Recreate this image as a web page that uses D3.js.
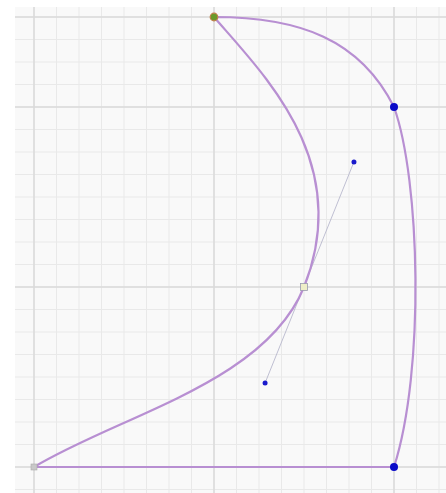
<!DOCTYPE html>
<html><head><meta charset="utf-8">
<script src="https://cdn.jsdelivr.net/npm/d3@7"></script>
<style>html,body{margin:0;padding:0;background:#fff;}svg{display:block;}</style>
</head><body>
<script>
// grid ticks (units)
const xMinor = d3.range(-1, 19);
const yMinor = d3.range(-1, 21);
const xMajor = [0, 8, 16];
const yMajor = [0, 8, 16, 20];
// anchor nodes
const nodeA = [8, 20];
const nodeB = [16, 16];
const nodeC = [16, 0];
const nodeD = [0, 0];
const nodeE = [12, 8];
// handles of node E
const handleOut = [14.22, 13.56];
const handleIn = [10.27, 3.73];
// other control points
const ctrlAB = [[11.8, 20], [14.5, 19]];
const ctrlBC = [[17.16, 12.76], [17.38, 4.31]];
const ctrlDE = [[3.82, 2.31]];
const ctrlEA = [[10.22, 17.42]];

const W = 446, H = 493;
const x = d3.scaleLinear().domain([0, 16]).range([34, 394]);
const y = d3.scaleLinear().domain([0, 16]).range([467, 107]);

const svg = d3.select("body").append("svg").attr("width", W).attr("height", H);

const gx0 = 15, gy0 = 7;
svg.append("rect").attr("x", gx0).attr("y", gy0).attr("width", W - gx0).attr("height", H - gy0).attr("fill", "#f9f9f9");

const grid = svg.append("g");
grid.selectAll("line.vx").data(xMinor.filter(v => x(v) > gx0)).join("line")
  .attr("x1", d => x(d)).attr("x2", d => x(d)).attr("y1", gy0).attr("y2", H)
  .attr("stroke", "#e9e9e9").attr("stroke-width", 1);
grid.selectAll("line.hy").data(yMinor.filter(v => y(v) > gy0)).join("line")
  .attr("y1", d => y(d)).attr("y2", d => y(d)).attr("x1", gx0).attr("x2", W)
  .attr("stroke", "#e9e9e9").attr("stroke-width", 1);
grid.selectAll("line.mx").data(xMajor).join("line")
  .attr("x1", d => x(d)).attr("x2", d => x(d)).attr("y1", gy0).attr("y2", H)
  .attr("stroke", "#dadada").attr("stroke-width", 1.5);
grid.selectAll("line.my").data(yMajor).join("line")
  .attr("y1", d => y(d)).attr("y2", d => y(d)).attr("x1", gx0).attr("x2", W)
  .attr("stroke", "#dadada").attr("stroke-width", 1.5);

const P = p => [x(p[0]), y(p[1])];

// handle line
svg.append("line")
  .attr("x1", P(handleOut)[0]).attr("y1", P(handleOut)[1])
  .attr("x2", P(handleIn)[0]).attr("y2", P(handleIn)[1])
  .attr("stroke", "#b0b0c8").attr("stroke-width", 0.8);

// shape path
const p = d3.path();
p.moveTo(...P(nodeA));
p.bezierCurveTo(...P(ctrlAB[0]), ...P(ctrlAB[1]), ...P(nodeB));
p.bezierCurveTo(...P(ctrlBC[0]), ...P(ctrlBC[1]), ...P(nodeC));
p.lineTo(...P(nodeD));
p.bezierCurveTo(...P(ctrlDE[0]), ...P(handleIn), ...P(nodeE));
p.bezierCurveTo(...P(handleOut), ...P(ctrlEA[0]), ...P(nodeA));
svg.append("path").attr("d", p.toString()).attr("fill", "none")
  .attr("stroke", "#b88fd2").attr("stroke-width", 2.2).attr("stroke-linejoin", "round");

// handle dots
svg.selectAll("circle.h").data([handleOut, handleIn]).join("circle")
  .attr("cx", d => x(d[0])).attr("cy", d => y(d[1])).attr("r", 2.5).attr("fill", "#1a1acc");

// blue nodes
svg.selectAll("circle.n").data([nodeB, nodeC]).join("circle")
  .attr("cx", d => x(d[0])).attr("cy", d => y(d[1])).attr("r", 4).attr("fill", "#0a0ac8");

// gray square D
svg.append("rect").attr("x", x(nodeD[0]) - 3).attr("y", y(nodeD[1]) - 3).attr("width", 6).attr("height", 6)
  .attr("fill", "#c8c8c8").attr("stroke", "#aaaaaa").attr("stroke-width", 0.6);
// square E
svg.append("rect").attr("x", x(nodeE[0]) - 3.5).attr("y", y(nodeE[1]) - 3.5).attr("width", 7).attr("height", 7)
  .attr("fill", "#eeeec8").attr("stroke", "#9a9ab0").attr("stroke-width", 0.8);
// green start A
svg.append("circle").attr("cx", x(nodeA[0])).attr("cy", y(nodeA[1])).attr("r", 3.8)
  .attr("fill", "#6a9a2a").attr("stroke", "#c0804a").attr("stroke-width", 1.2);
</script>
</body></html>
